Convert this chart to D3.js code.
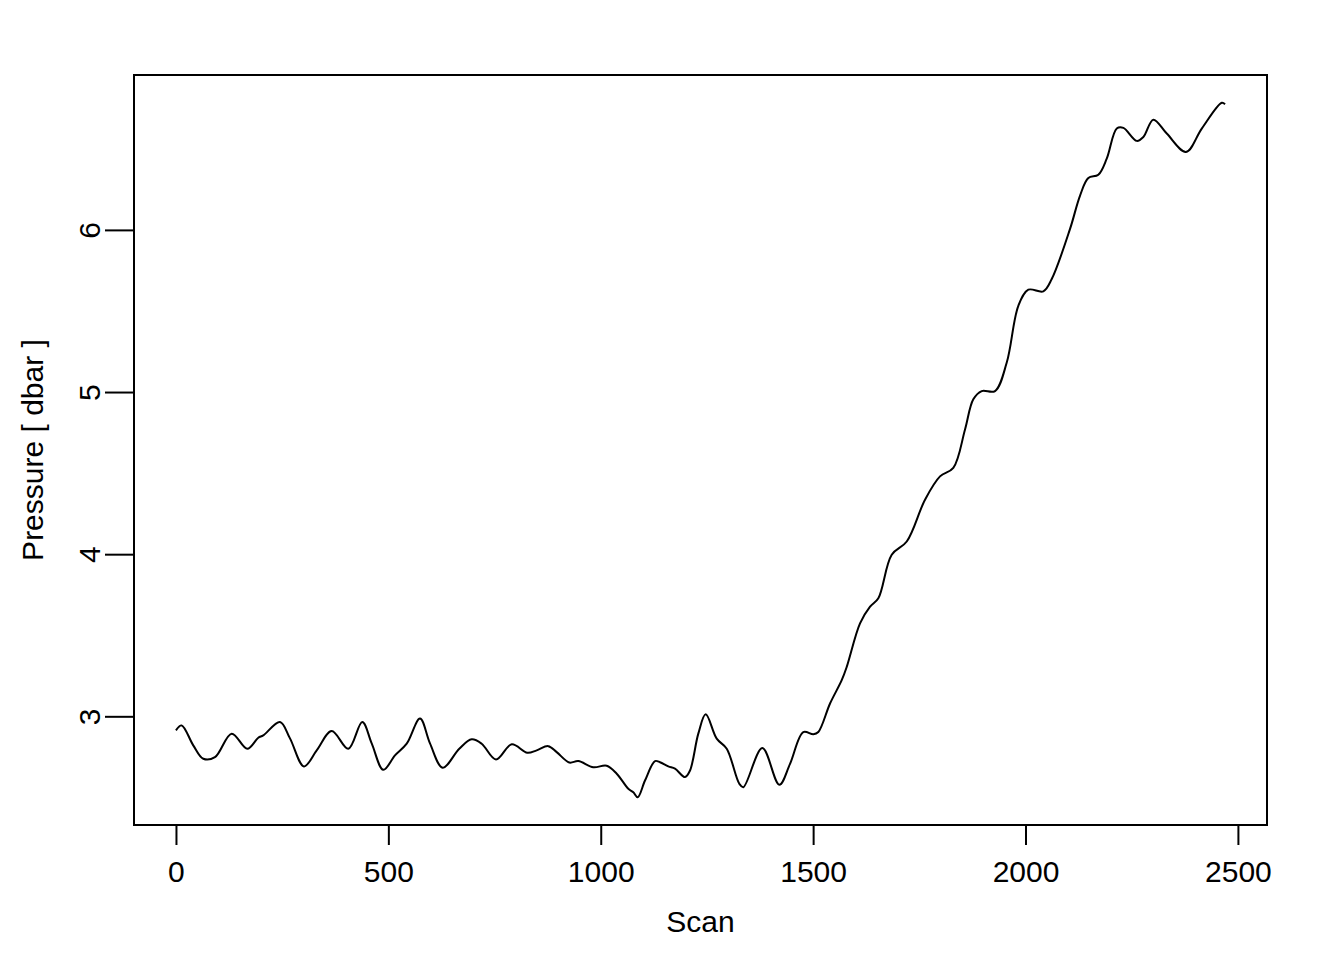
<!DOCTYPE html>
<html>
<head>
<meta charset="utf-8">
<script src="https://cdn.jsdelivr.net/npm/d3@7"></script>
<style>
  html, body { margin: 0; padding: 0; background: #fff; }
  svg { display: block; }
  text { font-family: "Liberation Sans", Arial, Helvetica, sans-serif; }
</style>
</head>
<body>
<svg id="chart" width="1344" height="960"></svg>
<script>
// ---- data ----
const scans = [0, 13.4, 40.7, 64.3, 91.8, 131.1, 167.9, 193.8, 205.5, 244.9, 268.4, 301.4, 331.3, 366.6,
  405.7, 438.6, 460.8, 488.1, 515.6, 543.2, 574.5, 598.0, 627.9, 667.0, 696.2, 719.7, 753.4, 790.4,
  827.1, 849.2, 876.5, 896.3, 926.0, 947.2, 982.5, 1014.0, 1037.6, 1064.9, 1076.7, 1087.0, 1104.2,
  1127.8, 1139.5, 1159.1, 1174.8, 1198.4, 1210.2, 1229.7, 1247.1, 1273.0, 1296.6, 1326.2, 1335.7,
  1380.4, 1420.4, 1445.6, 1476.9, 1500.5, 1512.2, 1539.8, 1567.3, 1579.1, 1610.4, 1634.0, 1653.5,
  1685.0, 1720.4, 1763.4, 1798.7, 1830.0, 1857.6, 1877.1, 1896.9, 1928.2, 1955.8, 1983.1, 2006.6,
  2041.9, 2061.7, 2104.8, 2128.4, 2147.9, 2171.4, 2191.2, 2214.8, 2230.3, 2261.8, 2277.4, 2300.9,
  2332.5, 2377.9, 2414.9, 2462.0, 2469.7];
const pressures = [2.913, 2.944, 2.821, 2.738, 2.748, 2.893, 2.800, 2.868, 2.882, 2.965, 2.864, 2.691,
  2.790, 2.909, 2.800, 2.965, 2.833, 2.670, 2.759, 2.831, 2.986, 2.833, 2.683, 2.800, 2.858, 2.831,
  2.734, 2.827, 2.775, 2.790, 2.816, 2.779, 2.715, 2.724, 2.686, 2.695, 2.646, 2.553, 2.532, 2.501,
  2.604, 2.724, 2.717, 2.691, 2.677, 2.625, 2.666, 2.893, 3.012, 2.862, 2.800, 2.584, 2.563, 2.804,
  2.578, 2.707, 2.903, 2.889, 2.903, 3.079, 3.223, 3.305, 3.573, 3.676, 3.728, 3.996, 4.078, 4.336,
  4.480, 4.532, 4.769, 4.955, 5.006, 5.006, 5.182, 5.532, 5.631, 5.621, 5.697, 6.006, 6.212, 6.320,
  6.340, 6.439, 6.625, 6.629, 6.549, 6.573, 6.680, 6.594, 6.481, 6.625, 6.784, 6.775];
const xTicks = [0, 500, 1000, 1500, 2000, 2500];
const yTicks = [3, 4, 5, 6];
const xLabel = "Scan";
const yLabel = "Pressure [ dbar ]";

// ---- layout ----
const plot = { left: 134, right: 1267, top: 75, bottom: 825 };
const fontSize = 30;

function padded(ext) {
  const r = ext[1] - ext[0];
  return [ext[0] - 0.04 * r, ext[1] + 0.04 * r];
}

const x = d3.scaleLinear().domain(padded(d3.extent(scans))).range([plot.left, plot.right]);
const y = d3.scaleLinear().domain(padded(d3.extent(pressures))).range([plot.bottom, plot.top]);

const svg = d3.select("#chart");

const points = scans.map((s, i) => [s, pressures[i]]);

// line
svg.append("path")
  .datum(points)
  .attr("fill", "none")
  .attr("stroke", "#000")
  .attr("stroke-width", 2)
  .attr("stroke-linejoin", "round")
  .attr("d", d3.line().x(d => x(d[0])).y(d => y(d[1])).curve(d3.curveCatmullRom.alpha(0.5)));

// box
svg.append("rect")
  .attr("x", plot.left).attr("y", plot.top)
  .attr("width", plot.right - plot.left).attr("height", plot.bottom - plot.top)
  .attr("fill", "none").attr("stroke", "#000").attr("stroke-width", 2);

// x axis
const gx = svg.append("g")
  .attr("transform", `translate(0,${plot.bottom})`)
  .call(d3.axisBottom(x).tickValues(xTicks).tickFormat(d3.format("d")).tickSize(20).tickPadding(16));
gx.select(".domain").remove();
gx.selectAll(".tick line").attr("stroke", "#000").attr("stroke-width", 2);
gx.selectAll(".tick text").attr("fill", "#000").style("font-size", fontSize + "px")
  .attr("font-family", null);
gx.append("line")
  .attr("x1", x(xTicks[0])).attr("x2", x(xTicks[xTicks.length - 1]))
  .attr("y1", 0).attr("y2", 0).attr("stroke", "#000").attr("stroke-width", 2);

// y axis
const gy = svg.append("g")
  .attr("transform", `translate(${plot.left},0)`)
  .call(d3.axisLeft(y).tickValues(yTicks).tickFormat(d3.format("d")).tickSize(29));
gy.select(".domain").remove();
gy.selectAll(".tick line").attr("stroke", "#000").attr("stroke-width", 2);
gy.selectAll(".tick text")
  .attr("fill", "#000").style("font-size", fontSize + "px").attr("font-family", null)
  .attr("x", null).attr("dy", null).attr("y", null)
  .attr("text-anchor", "middle")
  .attr("transform", "translate(-34,0) rotate(-90)");

// axis titles
svg.append("text")
  .attr("x", (plot.left + plot.right) / 2).attr("y", 932)
  .attr("text-anchor", "middle").style("font-size", fontSize + "px").attr("fill", "#000")
  .text(xLabel);

svg.append("text")
  .attr("transform", `translate(43,${(plot.top + plot.bottom) / 2}) rotate(-90)`)
  .attr("text-anchor", "middle").style("font-size", fontSize + "px").attr("fill", "#000")
  .text(yLabel);
</script>
</body>
</html>
